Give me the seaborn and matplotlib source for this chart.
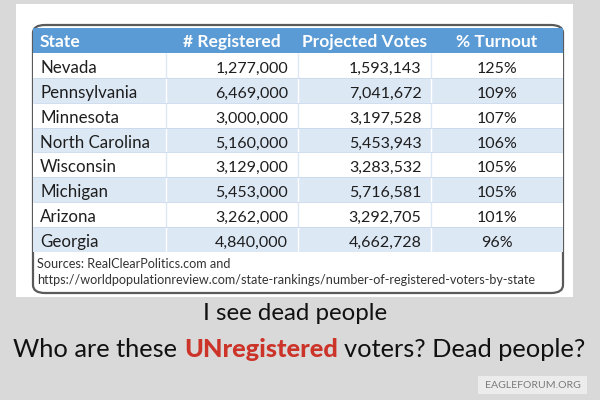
import numpy as np
import matplotlib
matplotlib.use('Agg')
import matplotlib.pyplot as plt
from matplotlib.colors import ListedColormap
from matplotlib.patches import Rectangle, FancyBboxPatch
import seaborn as sns

# 数据
states = ['Nevada', 'Pennsylvania', 'Minnesota', 'North Carolina',
          'Wisconsin', 'Michigan', 'Arizona', 'Georgia']
registered = [1277000, 6469000, 3000000, 5160000, 3129000, 5453000, 3262000, 4840000]
projected = [1593143, 7041672, 3197528, 5453943, 3283532, 5716581, 3292705, 4662728]
turnout = [125, 109, 107, 106, 105, 105, 101, 96]
headers = ['State', '# Registered', 'Projected Votes', '% Turnout']
sources = ['Sources: RealClearPolitics.com and',
           'https://worldpopulationreview.com/state-rankings/number-of-registered-voters-by-state']

sns.set_theme(style='white')
plt.rcParams['font.family'] = ['Lato', 'DejaVu Sans']

W, H = 600, 400
bg = '#d9d9d9'
head_c = '#5b9bd5'
band_c = '#dde8f5'
txt_c = '#1e1e1e'

fig = plt.figure(figsize=(6, 4), dpi=100, facecolor=bg)
renderer = fig.canvas.get_renderer()


def fx(px):
    return px / W


def fy(py):
    return 1 - py / H


def width_of(s, **kw):
    t = fig.text(0, 0, s, **kw)
    w = t.get_window_extent(renderer).width
    t.remove()
    return w


def fit(s, target, **kw):
    # 按目标像素宽度求字号
    return 10 * target / width_of(s, fontsize=10, **kw)


# 白色底板
fig.patches.append(Rectangle((fx(16), fy(297)), fx(573) - fx(16), fy(4) - fy(297),
                             transform=fig.transFigure, facecolor='white',
                             edgecolor='none', zorder=0))
# 表格外框
fig.patches.append(FancyBboxPatch((fx(33), fy(293)), fx(563) - fx(33), fy(25) - fy(293),
                                  boxstyle='round,pad=0,rounding_size=0.02',
                                  transform=fig.transFigure, facecolor='white',
                                  edgecolor='#5a5a5a', linewidth=1.6, zorder=1))

# 表格单元格
ax = fig.add_axes([fx(33), fy(252), fx(563) - fx(33), fy(28) - fy(252)])
n = len(states)
codes = np.zeros((n + 1, 4))
for i in range(n):
    codes[i + 1, :] = 1 if i % 2 == 0 else 2
sns.heatmap(codes, ax=ax, cmap=ListedColormap([head_c, 'white', band_c]),
            vmin=0, vmax=2, cbar=False, xticklabels=False, yticklabels=False)
ax.set_zorder(2)

# 分隔线
for i in range(n):
    lc = band_c if i % 2 == 0 else 'white'
    ax.vlines([1, 2, 3], i + 1, i + 2, colors=lc, linewidth=1.0)
ax.hlines(np.arange(2, n + 1), 0, 4, colors='#c8d8ec', linewidth=0.6)
ax.hlines([n + 1], 0, 4, colors='#b8cbe4', linewidth=0.8)

cw = (563 - 33) / 4.0
ch = (252 - 28) / (n + 1.0)
pad = 7 / cw

fs_head = fit('Projected Votes', 125, fontweight='bold')
fs_name = fit('North Carolina', 110)
fs_num = fit('1,277,000', 72)

# 表头
ax.text(pad, 0.5 + 6.5 / ch, headers[0], ha='left', va='baseline', color='white',
        fontsize=fs_head, fontweight='bold')
for j in range(1, 4):
    ax.text(j + 0.5, 0.5 + 6.5 / ch, headers[j], ha='center', va='baseline', color='white',
            fontsize=fs_head, fontweight='bold')

# 表体
for i in range(n):
    y = i + 1.5 + 7.5 / ch
    ax.text(pad, y, states[i], ha='left', va='baseline', color=txt_c, fontsize=fs_name)
    ax.text(2 - 10 / cw, y, f'{registered[i]:,}', ha='right', va='baseline',
            color=txt_c, fontsize=fs_num)
    ax.text(3 - 9 / cw, y, f'{projected[i]:,}', ha='right', va='baseline',
            color=txt_c, fontsize=fs_num)
    ax.text(3.5, y, f'{turnout[i]}%', ha='center', va='baseline', color=txt_c, fontsize=fs_num)

# 来源
fs_src = fit(sources[1], 500)
fig.text(fx(37), fy(268), sources[0], ha='left', va='baseline', color='#333333', fontsize=fs_src)
fig.text(fx(37), fy(284), sources[1], ha='left', va='baseline', color='#333333', fontsize=fs_src)

# 标题
fs1 = fit('I see dead people', 184)
fig.text(fx(295), fy(320), 'I see dead people', ha='center', va='baseline',
         color='#111111', fontsize=fs1)

pieces = ['Who are these', 'UNregistered', 'voters? Dead people?']
w1 = width_of(pieces[0], fontsize=10)
w2 = width_of(pieces[1], fontsize=10, fontweight='black')
w3 = width_of(pieces[2], fontsize=10)
sp = width_of('a a', fontsize=10) - width_of('aa', fontsize=10)
k = 574 / (w1 + w2 + w3 + 2 * sp)
fs2 = 10 * k
w1, w2, w3, sp = w1 * k, w2 * k, w3 * k, sp * k
x0 = 13
yy = fy(357)
fig.text(fx(x0), yy, pieces[0], ha='left', va='baseline', color='#111111', fontsize=fs2)
fig.text(fx(x0 + w1 + sp), yy, pieces[1], ha='left', va='baseline', color='#cc3329',
         fontsize=fs2, fontweight='black')
fig.text(fx(x0 + w1 + w2 + 2 * sp), yy, pieces[2], ha='left', va='baseline',
         color='#111111', fontsize=fs2)

# 水印
fig.patches.append(Rectangle((fx(478), fy(394)), fx(587) - fx(478), fy(376) - fy(394),
                             transform=fig.transFigure, facecolor='#ececec',
                             edgecolor='none', zorder=0))
fig.text(fx(532.5), fy(388.5), 'EAGLEFORUM.ORG', ha='center', va='baseline',
         color='#7a7a7a', fontsize=fit('EAGLEFORUM.ORG', 95))

fig.savefig('out.png', dpi=100, facecolor=bg)
